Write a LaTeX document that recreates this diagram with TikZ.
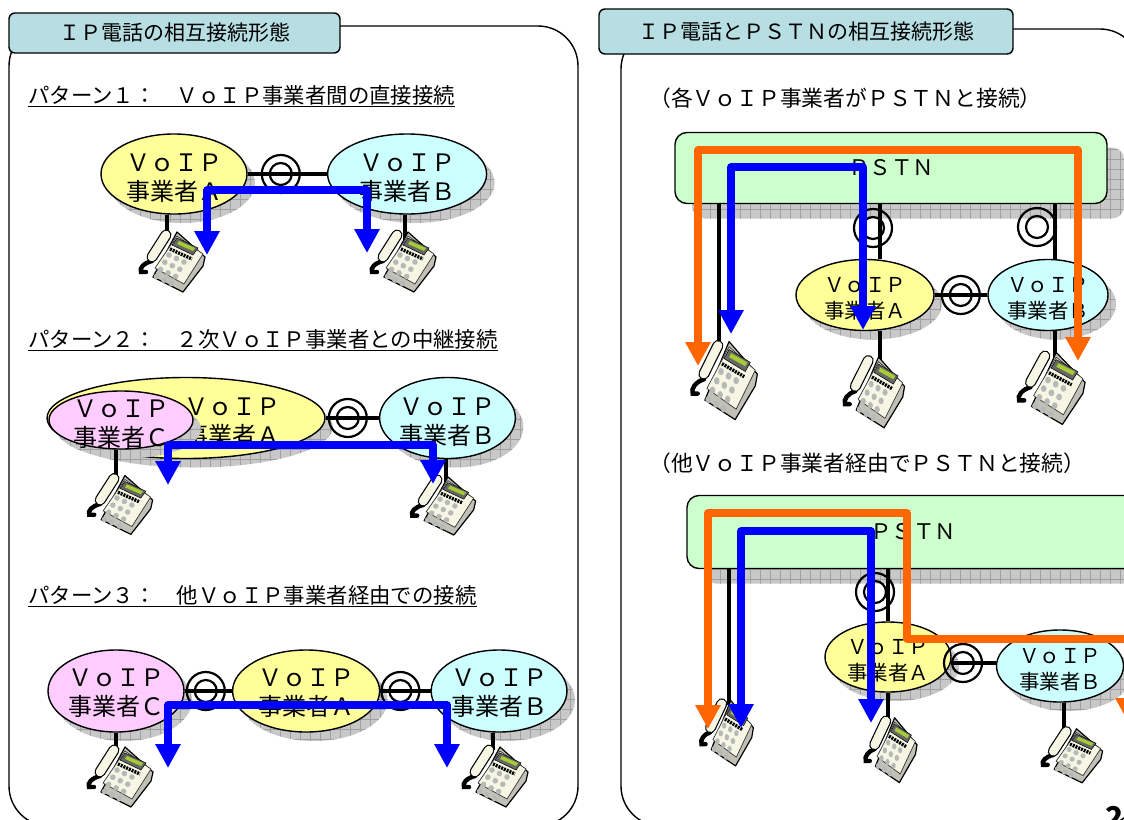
\documentclass[tikz,border=0pt]{standalone}
\usepackage{fontspec}
\setmainfont{Noto Sans CJK JP}
\usepackage{xcolor}
\usetikzlibrary{shapes.geometric, arrows.meta, positioning, calc, shadows, patterns.meta}
\definecolor{voipYellow}{RGB}{255,255,153}
\definecolor{voipCyan}{RGB}{204,255,255}
\definecolor{voipPink}{RGB}{255,204,255}
\definecolor{pstnGreen}{RGB}{204,255,204}
\definecolor{tabTeal}{RGB}{183,222,226}
\definecolor{shadeGray}{RGB}{200,200,200}
\definecolor{shadeLine}{RGB}{160,160,160}
\definecolor{routeBlue}{RGB}{0,0,255}
\definecolor{routeOrange}{RGB}{255,102,0}
\definecolor{telCream}{RGB}{246,246,228}

\tikzset{
    telset/.pic={
        \filldraw[fill=telCream!55!gray, draw=black, line width=1.2pt, line join=round] (7,-28) -- (35,-3) -- (33,6) -- (13,32) -- (-17,17) -- cycle;
        \filldraw[fill=telCream, draw=black!80, line width=0.7pt, line join=round] (7,-24) -- (33,-6) -- (14,24) -- (-15,8) -- cycle;
        \draw[black, line width=4.4pt, line cap=round] (-18,1) .. controls (-26,3) and (-31,8) .. (-29,12) -- (-24,12);
        \draw[black, line width=11pt, line cap=round] (-4,-25) -- (-18,-3);
        \draw[telCream, line width=8.6pt, line cap=round] (-4,-25) -- (-18,-3);
        \filldraw[fill=black!60, draw=black, line width=0.5pt] (7,-22) -- (28,-12) -- (23,-5) -- (2,-15) -- cycle;
        \fill[green!25!yellow!60!gray] (9,-19) -- (25,-12) -- (23,-9) -- (7,-16) -- cycle;
        \draw[black, line width=3.4pt, dash pattern=on 2pt off 1pt] (0,-11) -- (22,-1);
        \foreach \i in {0,1,2} \foreach \j in {0,1,2,3}
            \fill[black!28] ($(-1,-5)+\i*(7.5,3.5)+\j*(-4.2,7.2)$) circle (2.8pt);
    }
}

\begin{document}
\begin{tikzpicture}[
    x=1pt, y=-1pt,
    node distance=10pt and 10pt,
    panelbox/.style={draw=black, fill=white, line width=1.4pt, rounded corners=40pt},
    tabbox/.style={draw=black, fill=tabTeal, line width=1.4pt, rounded corners=6pt, font=\fontsize{21}{24}\selectfont},
    headtext/.style={anchor=west, inner sep=0pt, font=\fontsize{21.4}{26}\selectfont},
    subtext/.style={anchor=west, inner sep=0pt, font=\fontsize{21.8}{26}\selectfont},
    voipbox/.style={ellipse, draw=black, line width=1.4pt, inner xsep=0pt, inner ysep=-10pt, align=center, font=\fontsize{24}{29}\selectfont,
        execute at begin node={\rule{0pt}{#1}},
        general shadow={shadow xshift=8pt, shadow yshift=-9pt, fill=shadeGray,
        postaction={pattern={Lines[angle=0,distance=10pt,line width=0.6pt]}, pattern color=shadeLine},
        postaction={pattern={Lines[angle=90,distance=10pt,line width=0.6pt]}, pattern color=shadeLine}}},
    voipbox/.default=55pt,
    smallvoip/.style={voipbox=48pt, font=\fontsize{20.5}{26}\selectfont},
    pstnbox/.style={draw=black, fill=pstnGreen, line width=1.4pt, rounded corners=12pt, font=\fontsize{21.5}{24}\selectfont,
        general shadow={shadow xshift=17pt, shadow yshift=-15pt, fill=shadeGray,
        postaction={pattern={Lines[angle=0,distance=10pt,line width=0.6pt]}, pattern color=shadeLine},
        postaction={pattern={Lines[angle=90,distance=10pt,line width=0.6pt]}, pattern color=shadeLine}}},
    ringbox/.style={circle, draw=black, line width=2.2pt, inner sep=0pt, minimum size=38pt,
        path picture={\draw[line width=2.2pt] (path picture bounding box.center) circle (11pt);}},
    telbox/.style={inner sep=0pt, minimum width=60pt, minimum height=60pt},
    wire/.style={draw=black, line width=4.4pt},
    bluearrow/.style={{Triangle[width=24pt,length=24pt]}-{Triangle[width=24pt,length=24pt]}, draw=routeBlue, line width=7.5pt, line join=round},
    orangearrow/.style={{Triangle[width=24pt,length=24pt]}-{Triangle[width=24pt,length=24pt]}, draw=routeOrange, line width=7.5pt, line join=round}
]
\useasboundingbox (0,0) rectangle (1124,819);
\clip (0,0) rectangle (1124,819);
\fill[white] (0,0) rectangle (1124,819);

% Panels and tabs
\draw [panelbox] (9,26) rectangle (578,826);
\draw [panelbox] (621,29) rectangle (1140,826);
\node (tab_left) [tabbox, minimum width=331pt, minimum height=40pt] at (174.5,33) {ＩＰ電話の相互接続形態};
\node (tab_right) [tabbox, minimum width=414pt, minimum height=45pt] at (806,31.5) {ＩＰ電話とＰＳＴＮの相互接続形態};

% Headings
\node (head_p1) [headtext] at (28,96) {\underline{パターン１：　ＶｏＩＰ事業者間の直接接続}};
\node (head_p2) [headtext] at (28,340) {\underline{パターン２：　２次ＶｏＩＰ事業者との中継接続}};
\node (head_p3) [headtext] at (28,596) {\underline{パターン３：　他ＶｏＩＰ事業者経由での接続}};
\node (head_q1) [subtext] at (649,98) {（各ＶｏＩＰ事業者がＰＳＴＮと接続）};
\node (head_q2) [subtext] at (649,463) {（他ＶｏＩＰ事業者経由でＰＳＴＮと接続）};

% Pattern 1
\node (va_1) [voipbox, fill=voipYellow, minimum width=146pt, minimum height=80pt] at (174,174) {ＶｏＩＰ\\事業者Ａ};
\node (ring_1) [ringbox, right=13pt of va_1] {};
\node (vb_1) [voipbox, fill=voipCyan, minimum width=159pt, minimum height=80pt, right=26pt of ring_1] {ＶｏＩＰ\\事業者Ｂ};

% Pattern 2
\node (va_2) [voipbox, fill=voipYellow, minimum width=278pt, minimum height=81pt] at (186,418) {\hspace{92pt}ＶｏＩＰ\\\hspace{92pt}事業者Ａ};
\node (vc_2) [voipbox, fill=voipPink, inner ysep=-16pt, minimum width=144pt, minimum height=58pt] at (121,420) {ＶｏＩＰ\\事業者Ｃ};
\node (ring_2) [ringbox, right=2pt of va_2] {};
\node (vb_2) [voipbox, fill=voipCyan, minimum width=133pt, minimum height=81pt, right=11pt of ring_2] {ＶｏＩＰ\\事業者Ｂ};

% Pattern 3
\node (vc_3) [voipbox=51pt, fill=voipPink, minimum width=136pt, minimum height=82pt] at (116,691) {ＶｏＩＰ\\事業者Ｃ};
\node (ring_3a) [ringbox, right=1pt of vc_3] {};
\node (va_3) [voipbox=51pt, fill=voipYellow, minimum width=147pt, minimum height=82pt, right=6pt of ring_3a] {ＶｏＩＰ\\事業者Ａ};
\node (ring_3b) [ringbox, right=0pt of va_3] {};
\node (vb_3) [voipbox=51pt, fill=voipCyan, minimum width=133pt, minimum height=82pt, right=10pt of ring_3b] {ＶｏＩＰ\\事業者Ｂ};

% PSTN, direct connection
\node (pstn_1) [pstnbox, minimum width=432pt, minimum height=71pt] at (891,168) {\raisebox{-2pt}{ＰＳＴＮ}};
\node (va_4) [smallvoip, fill=voipYellow, minimum width=138pt, minimum height=71pt] at (865,295) {ＶｏＩＰ\\事業者Ａ};
\node (ring_4) [ringbox, right=6pt of va_4] {};
\node (vb_4) [smallvoip, fill=voipCyan, minimum width=120pt, minimum height=71pt] at (1048,295) {ＶｏＩＰ\\事業者Ｂ};
\node (ring_4a) [ringbox] at (873,228) {};
\node (ring_4b) [ringbox] at (1037,227) {};

% PSTN, via another operator
\node (pstn_2) [pstnbox, minimum width=452pt, minimum height=73pt] at (913,532) {\raisebox{-2pt}{ＰＳＴＮ}\hspace{6pt}};
\node (va_5) [smallvoip, fill=voipYellow, minimum width=126pt, minimum height=70pt] at (888,657) {ＶｏＩＰ\\事業者Ａ};
\node (vb_5) [smallvoip, fill=voipCyan, minimum width=127pt, minimum height=72pt] at (1060,666) {ＶｏＩＰ\\事業者Ｂ};
\node (ring_5) [ringbox] at (963,663) {};
\node (ring_5a) [ringbox] at (875,592) {};

% Telephones
\foreach \n/\x/\y in {tel_1a/170/260, tel_1b/401/260, tel_2c/118/503, tel_2b/441/504, tel_3c/118/775, tel_3b/493/775, tel_4p/722/378, tel_4a/872/390, tel_4b/1049/386, tel_5p/725/731, tel_5a/889/748, tel_5b/1070/754}
    \node (\n) [telbox] at (\x,\y) {};

% Wires
\draw [wire] (va_1) -- (vb_1);
\draw [wire] (va_2) -- (vb_2);
\draw [wire] (vc_3.east) -- (va_3.west);
\draw [wire] (va_3.east) -- (vb_3.west);
\draw [wire] (va_4.east) -- (vb_4.west);
\draw [wire] (va_5.east |- ring_5) -- (vb_5.west |- ring_5);

\coordinate (wire_1a) at (167,240);
\coordinate (wire_1b) at (405,240);
\coordinate (wire_2c) at (116,482);
\coordinate (wire_2b) at (446,482);
\coordinate (wire_3c) at (116,750);
\coordinate (wire_3b) at (493,750);
\coordinate (wire_4p) at (719,345);
\coordinate (wire_4a) at (880,360);
\coordinate (wire_4b) at (1055,360);
\coordinate (wire_5p) at (729,705);
\coordinate (wire_5a) at (888,725);
\coordinate (wire_5b) at (1064,735);

\draw [wire] (va_1.south -| wire_1a) -- (wire_1a);
\draw [wire] (vb_1.south -| wire_1b) -- (wire_1b);
\draw [wire] (vc_2.south -| wire_2c) -- (wire_2c);
\draw [wire] (vb_2.south -| wire_2b) -- (wire_2b);
\draw [wire] (vc_3.south -| wire_3c) -- (wire_3c);
\draw [wire] (vb_3.south -| wire_3b) -- (wire_3b);
\draw [wire] (pstn_1.south -| wire_4p) -- (wire_4p);
\draw [wire] (pstn_1.south -| wire_4a) -- (va_4.north -| wire_4a);
\draw [wire] (pstn_1.south -| wire_4b) -- (vb_4.north -| wire_4b);
\draw [wire] (va_4.south -| wire_4a) -- (wire_4a);
\draw [wire] (vb_4.south -| wire_4b) -- (wire_4b);
\draw [wire] (pstn_2.south -| wire_5p) -- (wire_5p);
\draw [wire] (pstn_2.south -| wire_5a) -- (va_5.north -| wire_5a);
\draw [wire] (va_5.south -| wire_5a) -- (wire_5a);
\draw [wire] (vb_5.south -| wire_5b) -- (wire_5b);

\foreach \n/\sx/\sy in {tel_1a/1/1, tel_1b/1/1, tel_2c/0.99/0.98, tel_2b/0.99/0.97, tel_3c/1/1, tel_3b/1/1, tel_4p/1.01/1.3, tel_4a/0.93/1.18, tel_4b/1.03/1.2, tel_5p/0.81/1.09, tel_5a/0.8/1.08, tel_5b/0.93/0.9}
    \pic [xscale=\sx, yscale=\sy] at (\n) {telset};

% Routes
\coordinate (blue_1l) at (207,255);
\coordinate (blue_1t) at (207,190);
\coordinate (blue_1u) at (367,190);
\coordinate (blue_1r) at (367,253);
\draw [bluearrow] (blue_1l) -- (blue_1t) -- (blue_1u) -- (blue_1r);

\coordinate (blue_2l) at (168,485);
\coordinate (blue_2t) at (168,445);
\coordinate (blue_2u) at (433,445);
\coordinate (blue_2r) at (433,484);
\draw [bluearrow] (blue_2l) -- (blue_2t) -- (blue_2u) -- (blue_2r);

\coordinate (blue_3l) at (168,768);
\coordinate (blue_3t) at (168,705);
\coordinate (blue_3u) at (447,705);
\coordinate (blue_3r) at (447,768);
\draw [bluearrow] (blue_3l) -- (blue_3t) -- (blue_3u) -- (blue_3r);

\coordinate (orange_4l) at (698,366);
\coordinate (orange_4t) at (698,150);
\coordinate (orange_4u) at (1078,150);
\coordinate (orange_4r) at (1078,361);
\draw [orangearrow] (orange_4l) -- (orange_4t) -- (orange_4u) -- (orange_4r);

\coordinate (blue_4l) at (731,334);
\coordinate (blue_4t) at (731,167);
\coordinate (blue_4u) at (863,167);
\coordinate (blue_4r) at (863,330);
\draw [bluearrow] (blue_4l) -- (blue_4t) -- (blue_4u) -- (blue_4r);

\coordinate (orange_5l) at (708,729);
\coordinate (orange_5t) at (708,513);
\coordinate (orange_5u) at (907,513);
\coordinate (orange_5m) at (907,639);
\coordinate (orange_5n) at (1128,639);
\coordinate (orange_5r) at (1128,722);
\draw [orangearrow] (orange_5l) -- (orange_5t) -- (orange_5u) -- (orange_5m) -- (orange_5n) -- (orange_5r);

\coordinate (blue_5l) at (741,728);
\coordinate (blue_5t) at (741,531);
\coordinate (blue_5u) at (871,531);
\coordinate (blue_5r) at (871,723);
\draw [bluearrow] (blue_5l) -- (blue_5t) -- (blue_5u) -- (blue_5r);

% Page number
\node (page_no) [anchor=north west, inner sep=0pt, font=\fontsize{30}{30}\selectfont\bfseries] at (1105,806) {2};
\end{tikzpicture}
\end{document}
